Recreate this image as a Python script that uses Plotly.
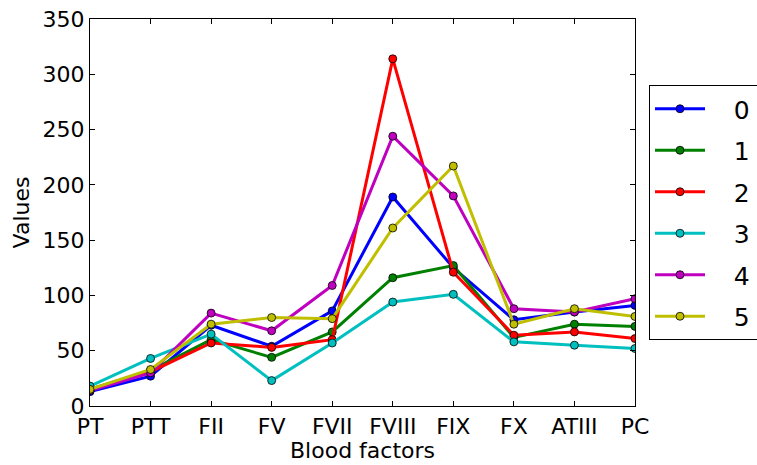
import plotly.graph_objects as go

factors = ["PT", "PTT", "FII", "FV", "FVII", "FVIII", "FIX", "FX", "ATIII", "PC"]
series_names = ["0", "1", "2", "3", "4", "5"]
s0 = [13, 27, 73, 54, 86, 189, 125, 78, 85, 91]
s1 = [15, 32, 60, 44, 67, 116, 127, 62, 74, 72]
s2 = [15, 31, 57, 53, 60, 314, 121, 64, 67, 61]
s3 = [18, 43, 65, 23, 57, 94, 101, 58, 55, 52]
s4 = [14, 30, 84, 68, 109, 244, 190, 88, 85, 97]
s5 = [15, 33, 74, 80, 79, 161, 217, 74, 88, 81]
series = [s0, s1, s2, s3, s4, s5]
colors = ["#0000ff", "#008000", "#ff0000", "#00bfbf", "#bf00bf", "#bfbf00"]

fig = go.Figure()
xs = list(range(len(factors)))
for name, vals, c in zip(series_names, series, colors):
    fig.add_trace(go.Scatter(
        x=xs, y=vals, name="\u00a0\u00a0\u00a0" + name + "\u00a0\u00a0", mode="lines+markers",
        line=dict(color=c, width=3),
        marker=dict(color=c, size=8, line=dict(color="black", width=0.8)),
        legendgroup=name,
    ))

font_family = "DejaVu Sans"
fig.update_layout(
    width=757, height=465,
    margin=dict(l=90, r=122, t=19, b=59, autoexpand=False),
    paper_bgcolor="white", plot_bgcolor="white",
    font=dict(family=font_family, size=22, color="black"),
    showlegend=True,
    legend=dict(
        xref="container", yref="container",
        x=649 / 757, y=1 - 85 / 465, xanchor="left", yanchor="top",
        bordercolor="black", borderwidth=1,
        font=dict(size=25),
        tracegroupgap=6,
        itemwidth=50,
        maxheight=0.9,
    ),
    xaxis=dict(
        range=[0, 9], tickmode="array", tickvals=xs, ticktext=factors,
        showgrid=False, zeroline=False, automargin=False,
        showline=True, linecolor="black", linewidth=1.2, mirror="allticks",
        ticks="inside", ticklen=5, tickcolor="black",
        title=dict(text="Blood factors", standoff=4, font=dict(size=22)),
        tickfont=dict(size=22),
    ),
    yaxis=dict(
        range=[0, 350], tickmode="array", tickvals=[0, 50, 100, 150, 200, 250, 300, 350],
        showgrid=False, zeroline=False, automargin=False,
        showline=True, linecolor="black", linewidth=1.2, mirror="allticks",
        ticks="inside", ticklen=5, tickcolor="black",
        title=dict(text="Values", standoff=6, font=dict(size=22)),
        tickfont=dict(size=22),
    ),
)

fig.write_html("out.html", config={"displayModeBar": False},
               post_script="document.body.style.margin='0';")
